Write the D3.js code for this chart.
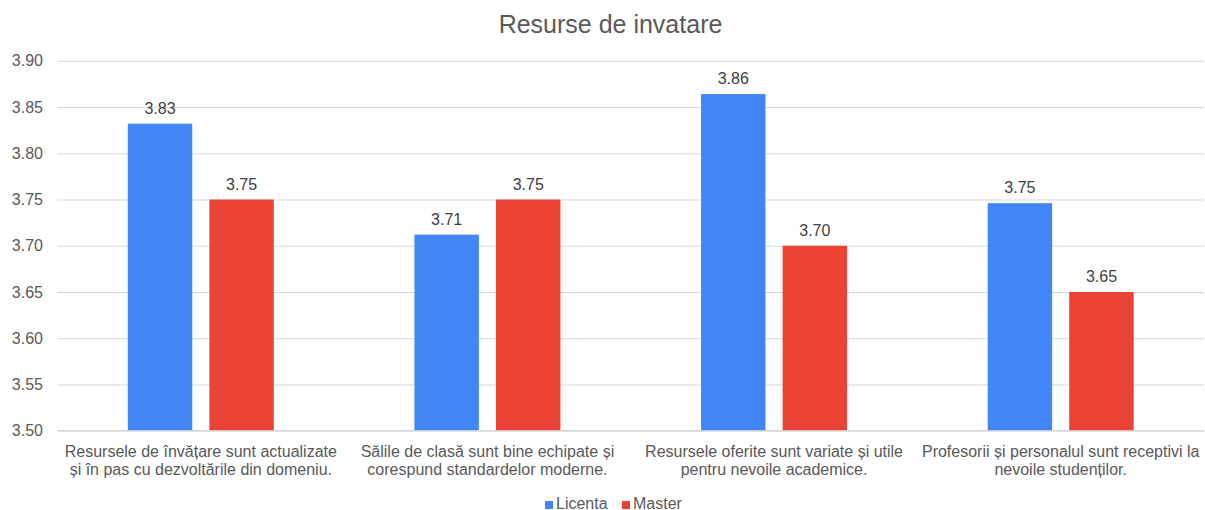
<!DOCTYPE html>
<html>
<head>
<meta charset="utf-8">
<script src="https://cdn.jsdelivr.net/npm/d3@7"></script>
<style>
  html, body { margin: 0; padding: 0; background: #fff; }
  svg { display: block; font-family: "Liberation Sans", Arial, sans-serif; }
</style>
</head>
<body>
<svg id="chart" width="1205" height="510"></svg>
<script>
// Chart data
const chartTitle = "Resurse de invatare";
const categories = [
  ["Resursele de învățare sunt actualizate", "și în pas cu dezvoltările din domeniu."],
  ["Sălile de clasă sunt bine echipate și", "corespund standardelor moderne."],
  ["Resursele oferite sunt variate și utile", "pentru nevoile academice."],
  ["Profesorii și personalul sunt receptivi la", "nevoile studenților."]
];
const seriesNames = ["Licenta", "Master"];
const licenta = [3.832, 3.712, 3.864, 3.746];
const master = [3.75, 3.75, 3.70, 3.65];
const yTicks = [3.50, 3.55, 3.60, 3.65, 3.70, 3.75, 3.80, 3.85, 3.90];
const colors = ["#4285F4", "#EA4335"];

const svg = d3.select("#chart");
const plotLeft = 57.5, plotRight = 1204, plotTop = 60.8, plotBottom = 430.7;

const x0 = d3.scaleBand().domain(d3.range(categories.length)).range([plotLeft, plotRight]).paddingInner(0).paddingOuter(0);
const x1 = d3.scaleBand().domain(seriesNames).range([0, 146]).paddingInner(0.21);
const y = d3.scaleLinear().domain([3.5, 3.9]).range([plotBottom, plotTop]);

// Title
svg.append("text")
  .attr("x", 610.5).attr("y", 33)
  .attr("text-anchor", "middle")
  .attr("font-size", 25)
  .attr("fill", "#595959")
  .text(chartTitle);

// Gridlines and y labels
const yAxis = d3.axisLeft(y).tickValues(yTicks).tickFormat(d3.format(".2f")).tickSize(-(plotRight - plotLeft)).tickPadding(14.5);
const gy = svg.append("g").attr("transform", `translate(${plotLeft},0)`).call(yAxis);
gy.select(".domain").remove();
gy.selectAll(".tick line").attr("stroke", "#d9d9d9").attr("stroke-width", 1);
gy.selectAll(".tick text").attr("font-size", 16).attr("fill", "#595959").attr("font-family", "Liberation Sans, Arial, sans-serif");

// Bars
const rows = categories.map((c, i) => ({ i, vals: [licenta[i], master[i]] }));
const groups = svg.append("g").selectAll("g").data(rows).join("g")
  .attr("transform", d => `translate(${x0(d.i) + x0.bandwidth() / 2 - 73},0)`);

groups.selectAll("rect").data(d => d.vals.map((v, k) => ({ v, k }))).join("rect")
  .attr("x", d => x1(seriesNames[d.k]))
  .attr("width", x1.bandwidth())
  .attr("y", d => y(d.v))
  .attr("height", d => y(3.5) - y(d.v))
  .attr("fill", d => colors[d.k]);

groups.selectAll("text.val").data(d => d.vals.map((v, k) => ({ v, k }))).join("text")
  .attr("class", "val")
  .attr("x", d => x1(seriesNames[d.k]) + x1.bandwidth() / 2)
  .attr("y", d => y(d.v) - 10)
  .attr("text-anchor", "middle")
  .attr("font-size", 16)
  .attr("fill", "#404040")
  .text(d => d3.format(".2f")(d.v));

// Baseline
svg.append("line")
  .attr("x1", plotLeft).attr("x2", plotRight)
  .attr("y1", y(3.5)).attr("y2", y(3.5))
  .attr("stroke", "#d0d0d0").attr("stroke-width", 1);

// Category labels
const cat = svg.append("g").selectAll("text").data(categories).join("text")
  .attr("text-anchor", "middle")
  .attr("font-size", 16)
  .attr("fill", "#595959")
  .attr("transform", (d, i) => `translate(${x0(i) + x0.bandwidth() / 2},0)`);
cat.selectAll("tspan").data(d => d).join("tspan")
  .attr("x", 0)
  .attr("y", (d, j) => 456.5 + j * 18)
  .text(d => d);

// Legend
const legend = svg.append("g");
const legendItems = [
  { name: seriesNames[0], color: colors[0], x: 545 },
  { name: seriesNames[1], color: colors[1], x: 622 }
];
legendItems.forEach(it => {
  legend.append("rect").attr("x", it.x).attr("y", 501).attr("width", 8).attr("height", 8).attr("fill", it.color);
  legend.append("text").attr("x", it.x + 11).attr("y", 508.5)
    .attr("font-size", 16).attr("fill", "#595959").text(it.name);
});
</script>
</body>
</html>
